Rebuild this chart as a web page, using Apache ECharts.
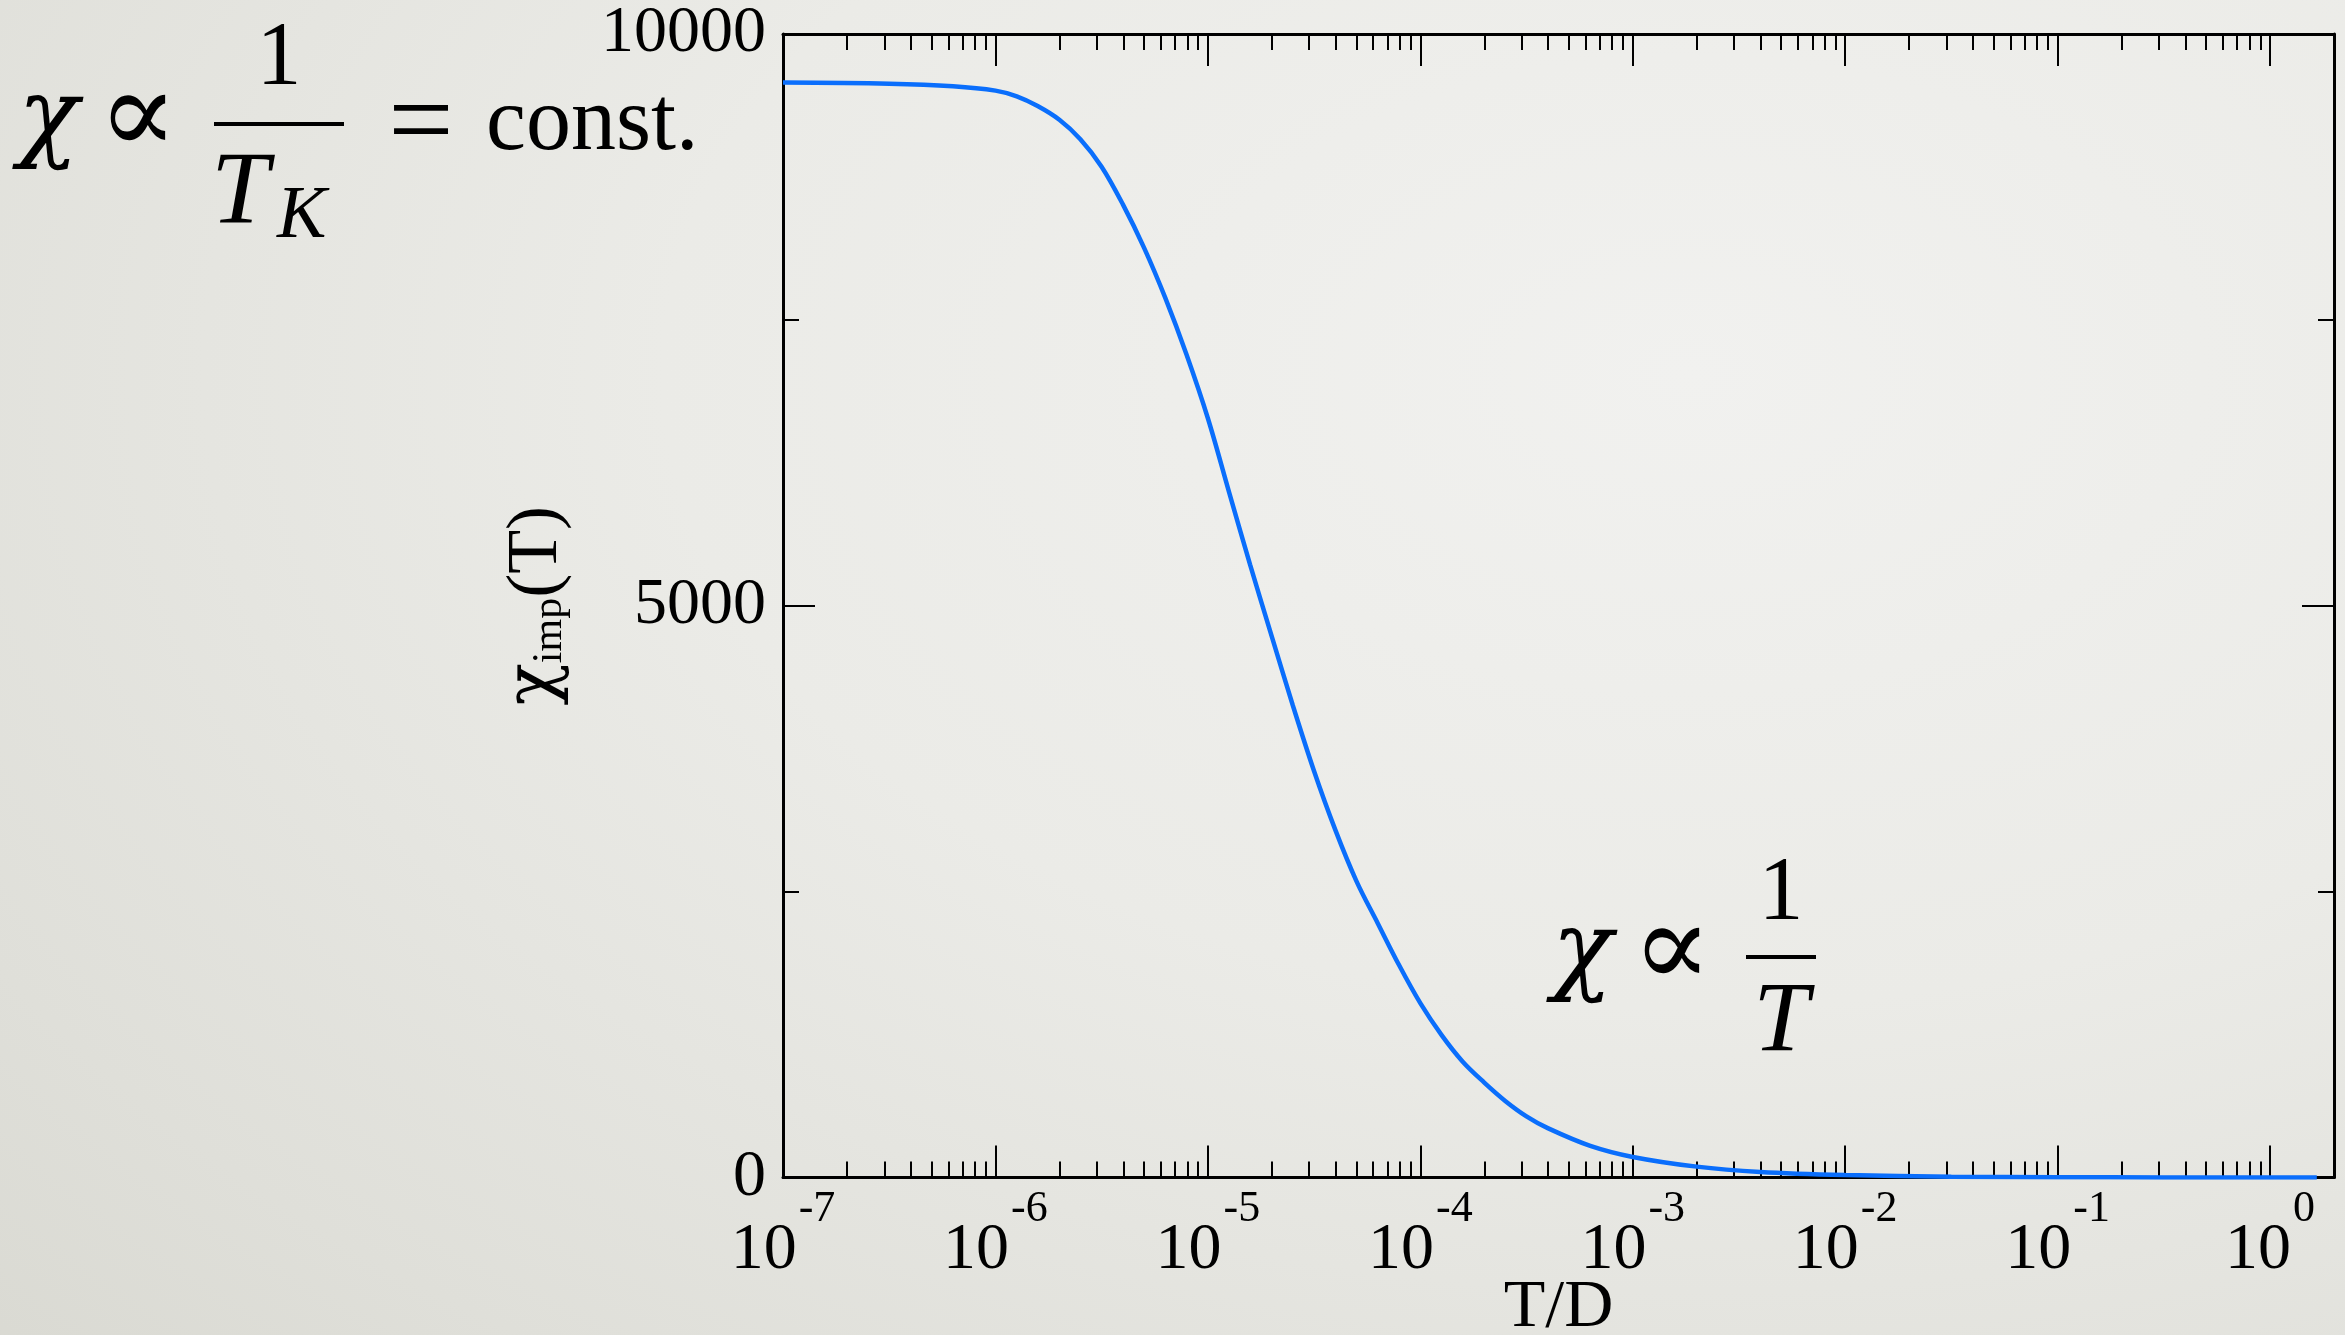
<!DOCTYPE html>
<html>
<head>
<meta charset="utf-8">
<style>
  html, body { margin: 0; padding: 0; width: 2345px; height: 1335px; overflow: hidden; }
  body {
    background: radial-gradient(ellipse 115% 125% at 72% 28%, #f1f1ef 0%, #ebebe7 38%, #dfdfd9 72%, #d4d4cc 100%);
  }
  #chart { width: 2345px; height: 1335px; }
</style>
<script src="https://cdn.jsdelivr.net/npm/echarts@6/dist/echarts.min.js"></script>
</head>
<body>
<div id="chart"></div>
<script>
// Impurity susceptibility vs. temperature (T in units of the bandwidth D)
const temperature = [
  1e-7, 3.16e-7, 6.31e-7, 1e-6, 1.26e-6, 1.58e-6, 2.0e-6, 2.51e-6, 3.16e-6, 3.98e-6,
  5.01e-6, 6.31e-6, 7.94e-6, 1e-5, 1.26e-5, 1.58e-5, 2.0e-5, 2.51e-5, 3.16e-5, 3.98e-5,
  5.01e-5, 6.31e-5, 7.94e-5, 1e-4, 1.26e-4, 1.58e-4, 2.0e-4, 2.51e-4, 3.16e-4, 3.98e-4,
  6.31e-4, 1e-3, 2.0e-3, 3.98e-3, 1e-2, 3.16e-2, 0.1, 0.316, 1, 1.66
];
const chiImp = [
  9575, 9565, 9543, 9505, 9455, 9370, 9250, 9080, 8840, 8510,
  8130, 7690, 7195, 6640, 5990, 5360, 4730, 4130, 3555, 3040,
  2590, 2222, 1858, 1525, 1245, 1015, 830, 670, 535, 432,
  277, 180, 95, 49, 22, 7, 2.3, 0.8, 0.25, 0.15
];

// axis ticks
const decadeTicks = [1e-7, 1e-6, 1e-5, 1e-4, 1e-3, 1e-2, 1e-1, 1];
const minorMultipliers = [2, 3, 4, 5, 6, 7, 8, 9];
const yTickValues = [0, 5000, 10000];

const minorTicks = [];
decadeTicks.forEach(function (d) {
  minorMultipliers.forEach(function (m) { minorTicks.push(+(d * m).toPrecision(3)); });
});

const X_MIN = 1e-7, X_MAX = 2;
const SERIF = '"Liberation Serif", "Times New Roman", "DejaVu Serif", serif';

const points = temperature.map(function (t, i) { return [t, chiImp[i]]; });

function logAxis(position, showLine, ticks, tickLen, withLabels) {
  return {
    type: 'log', logBase: 10, min: X_MIN, max: X_MAX, position: position,
    axisLine: { show: showLine, lineStyle: { color: '#000', width: 3 } },
    axisTick: { show: true, inside: true, length: tickLen, customValues: ticks,
                lineStyle: { color: '#000', width: 2 } },
    axisLabel: withLabels ? {
      show: true, customValues: decadeTicks, margin: 10,
      formatter: function (v) { return '{b|10}{e|' + Math.round(Math.log10(v)) + '}'; },
      rich: {
        b: { fontFamily: SERIF, fontSize: 66, lineHeight: 66, color: '#000', verticalAlign: 'bottom' },
        e: { fontFamily: SERIF, fontSize: 44, lineHeight: 96, color: '#000', verticalAlign: 'top',
             padding: [0, 0, 0, 2] }
      }
    } : { show: false },
    splitLine: { show: false }
  };
}

function valueAxis(position, withLabels) {
  return {
    type: 'value', min: 0, max: 10000, interval: 5000, position: position,
    axisLine: { show: true, lineStyle: { color: '#000', width: 3 } },
    axisTick: { show: true, inside: true, length: 32, lineStyle: { color: '#000', width: 2 } },
    minorTick: { show: true, splitNumber: 2, length: 16, lineStyle: { color: '#000', width: 2 } },
    axisLabel: withLabels ? {
      show: true, margin: 17, fontFamily: SERIF, fontSize: 66, color: '#000',
      customValues: yTickValues,
      formatter: function (v) { return String(v); }
    } : { show: false },
    splitLine: { show: false }
  };
}

const xBottom = logAxis('bottom', true, decadeTicks, 32, true);
xBottom.name = 'T/D';
xBottom.nameLocation = 'middle';
xBottom.nameGap = 97;
xBottom.nameMoveOverlap = false;
xBottom.nameTextStyle = { fontFamily: SERIF, fontSize: 68, color: '#000' };

const yLeft = valueAxis('left', true);
yLeft.name = '{g|χ}{s|imp}{c|(T)}';
yLeft.nameLocation = 'middle';
yLeft.nameRotate = 90;
yLeft.nameGap = 212;
yLeft.nameMoveOverlap = false;
yLeft.nameTextStyle = {
  rich: {
    g: { fontFamily: '"DejaVu Serif", serif', fontSize: 70, lineHeight: 70, color: '#000', verticalAlign: 'top' },
    c: { fontFamily: SERIF, fontSize: 72, lineHeight: 70, color: '#000', verticalAlign: 'top' },
    s: { fontFamily: SERIF, fontSize: 42, lineHeight: 42, color: '#000', verticalAlign: 'bottom',
         padding: [40, 0, 0, 0] }
  }
};

// formula annotations
const FS = 90;
const MATH = '"DejaVu Serif", "Liberation Serif", serif';
function txt(str, x, baseline, align, italic, size, family) {
  const s = size || FS;
  return {
    type: 'text', silent: true,
    style: {
      text: str, x: x, y: baseline - 0.3 * s,
      font: (italic ? 'italic ' : '') + s + 'px ' + (family || SERIF),
      fill: '#000', textAlign: align, textVerticalAlign: 'middle'
    }
  };
}
function bar(x1, x2, y) {
  return { type: 'line', silent: true, shape: { x1: x1, y1: y, x2: x2, y2: y },
           style: { stroke: '#000', lineWidth: 4 } };
}

const graphics = [
  // χ ∝ 1/T_K = const.
  txt('χ', 18, 152, 'left', true, 100, MATH),
  txt('∝', 138, 158, 'center', false, 118, MATH),
  txt('1', 279, 87, 'center', false),
  bar(214, 344, 124),
  txt('T', 211, 227, 'left', true, 104),
  txt('K', 277, 240, 'left', true, 74),
  txt('=', 421, 162, 'center', false, 116),
  txt('const.', 486, 152, 'left', false),
  // χ ∝ 1/T
  txt('χ', 1552, 985, 'left', true, 100, MATH),
  txt('∝', 1672, 991, 'center', false, 118, MATH),
  txt('1', 1781, 922, 'center', false),
  bar(1746, 1816, 957),
  txt('T', 1781, 1054, 'center', true, 100)
];

const chart = echarts.init(document.getElementById('chart'), null, { renderer: 'canvas' });
chart.setOption({
  animation: false,
  backgroundColor: 'transparent',
  grid: { left: 783, right: 11, top: 34, bottom: 157.5, containLabel: false, outerBoundsMode: 'none' },
  xAxis: [
    xBottom,
    logAxis('bottom', false, minorTicks, 16, false),
    logAxis('top', true, decadeTicks, 32, false),
    logAxis('top', false, minorTicks, 16, false)
  ],
  yAxis: [yLeft, valueAxis('right', false)],
  series: [{
    type: 'line', xAxisIndex: 0, yAxisIndex: 0,
    data: points, showSymbol: false, smooth: 0.35,
    lineStyle: { color: '#0a6efc', width: 4.5 }
  }],
  graphic: graphics
});
</script>
</body>
</html>
